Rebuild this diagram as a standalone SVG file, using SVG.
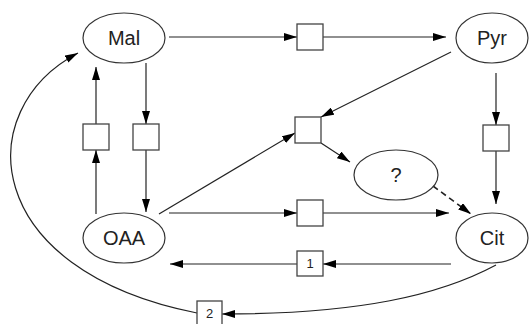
<svg xmlns="http://www.w3.org/2000/svg" width="532" height="324" viewBox="0 0 532 324">
<style>
.n{fill:#fff;stroke:#333;stroke-width:1.2}
.b{fill:#fff;stroke:#444;stroke-width:1.3}
.t{font-family:"Liberation Sans",Arial,sans-serif;font-size:20px;fill:#222;text-anchor:middle}
.s{font-family:"Liberation Sans",Arial,sans-serif;font-size:13px;fill:#222;text-anchor:middle}
.c{fill:none;stroke:#222;stroke-width:1.2;marker-end:url(#a)}
.d{stroke-dasharray:6,4;stroke-width:1.6}
</style>
<defs>
<marker id="a" viewBox="0 0 13 8" refX="13" refY="4" markerWidth="13" markerHeight="8" markerUnits="userSpaceOnUse" orient="auto"><path d="M0,0 L13,4 L0,8 z" fill="#000"/></marker>
</defs>
<g id="connectors">
<path class="c" d="M169,37 L297,37"/>
<path class="c" d="M323,37 L446,37"/>
<path class="c" d="M146,63 L146,124"/>
<path class="c" d="M146,150 L146,212"/>
<path class="c" d="M96,214 L96,150"/>
<path class="c" d="M96,124 L96,67"/>
<path class="c" d="M451,52 L321,117"/>
<path class="c" d="M159,214 L295,133"/>
<path class="c" d="M321,143 L350,162"/>
<path class="c d" d="M433,186 L471,214"/>
<path class="c" d="M496,73 L496,125"/>
<path class="c" d="M496,151 L496,204"/>
<path class="c" d="M169,213 L297,213"/>
<path class="c" d="M323,213 L449,213"/>
<path class="c" d="M451,264 L323,264"/>
<path class="c" d="M297,264 L170,264"/>
<path class="c" d="M496,265 C440,295 360,314 222,314"/>
<path class="c" d="M197,313 C-20,270 -30,110 78,53"/>
</g>
<g id="Mal"><ellipse class="n" cx="124" cy="38" rx="41" ry="25"/><text class="t" x="124" y="45">Mal</text></g>
<g id="Pyr"><ellipse class="n" cx="492" cy="38" rx="36" ry="25"/><text class="t" x="492" y="45">Pyr</text></g>
<g id="OAA"><ellipse class="n" cx="124" cy="238" rx="41" ry="25"/><text class="t" x="124" y="245">OAA</text></g>
<g id="Cit"><ellipse class="n" cx="492" cy="238" rx="36" ry="25"/><text class="t" x="492" y="245">Cit</text></g>
<g id="Q"><ellipse class="n" cx="396" cy="175" rx="42" ry="25"/><text class="t" x="396" y="182">?</text></g>
<g id="boxTop"><rect class="b" x="297" y="24" width="26" height="26"/></g>
<g id="boxL1"><rect class="b" x="83" y="124" width="26" height="26"/></g>
<g id="boxL2"><rect class="b" x="133" y="124" width="26" height="26"/></g>
<g id="boxC"><rect class="b" x="295" y="117" width="26" height="26"/></g>
<g id="boxR"><rect class="b" x="483" y="125" width="26" height="26"/></g>
<g id="boxB"><rect class="b" x="297" y="200" width="26" height="26"/></g>
<g id="box1"><rect class="b" x="297" y="251" width="26" height="25"/><text class="s" x="310" y="268">1</text></g>
<g id="box2"><rect class="b" x="197" y="301" width="25" height="24"/><text class="s" x="209.5" y="318">2</text></g>
</svg>
